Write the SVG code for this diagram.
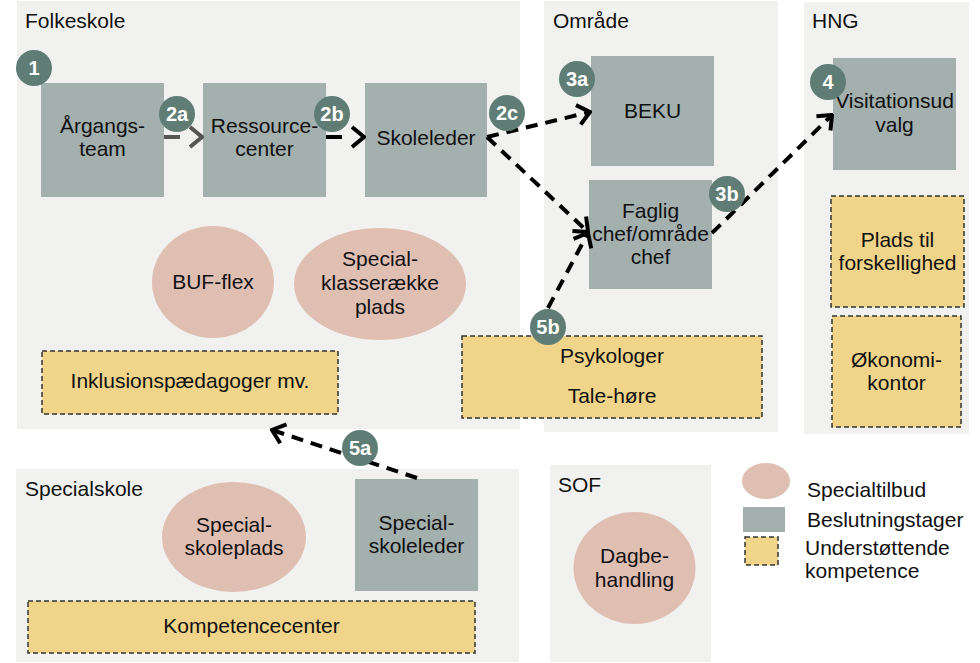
<svg xmlns="http://www.w3.org/2000/svg" width="980" height="663" viewBox="0 0 980 663">
<defs>
<style>
text{font-family:"Liberation Sans",Arial,sans-serif;font-size:21px;fill:#111;}
.c{text-anchor:middle;}
.panel{fill:#f1f1ef;}
.dec{fill:#a3b0ae;}
.sup{fill:#f0d48a;stroke:#333;stroke-width:1.5;stroke-dasharray:5 3;}
.spec{fill:#e0bfb3;}
.badge circle{fill:#5f7d75;}
.badge text{fill:#fff;font-weight:bold;font-size:20px;text-anchor:middle;}
.arr{fill:none;stroke:#000;stroke-width:4;stroke-dasharray:12 8;marker-end:url(#ah);}
.leg{font-size:21px;}
</style>
<marker id="ah" viewBox="0 0 16 24" refX="14" refY="12" markerWidth="16" markerHeight="24" markerUnits="userSpaceOnUse" orient="auto">
<path d="M2,2 L14,12 L2,22" fill="none" stroke="#000" stroke-width="4"/>
</marker>
<marker id="ahg" viewBox="0 0 16 24" refX="14" refY="12" markerWidth="16" markerHeight="24" markerUnits="userSpaceOnUse" orient="auto">
<path d="M2,2 L14,12 L2,22" fill="none" stroke="#555" stroke-width="4"/>
</marker>
</defs>
<rect width="980" height="663" fill="#fff"/>

<g id="panels">
<rect class="panel" x="17" y="1" width="503" height="428"/>
<text x="25" y="28">Folkeskole</text>
<rect class="panel" x="544" y="1" width="234" height="431"/>
<text x="553" y="28">Område</text>
<rect class="panel" x="804" y="2" width="165" height="432"/>
<text x="812" y="28">HNG</text>
<rect class="panel" x="16" y="469" width="503" height="193"/>
<text x="25" y="496">Specialskole</text>
<rect class="panel" x="550" y="465" width="161" height="197"/>
<text x="558" y="492">SOF</text>
</g>

<g id="argangsteam"><rect class="dec" x="41" y="83" width="123" height="114"/><text class="c" x="102.5" y="133">Årgangs-<tspan x="102.5" y="156">team</tspan></text></g>
<g id="ressourcecenter"><rect class="dec" x="203" y="83" width="123" height="114"/><text class="c" x="264.5" y="133">Ressource-<tspan x="264.5" y="156">center</tspan></text></g>
<g id="skoleleder"><rect class="dec" x="365" y="83" width="122" height="114"/><text class="c" x="426" y="145">Skoleleder</text></g>
<g id="bufflex"><ellipse class="spec" cx="213" cy="282" rx="61" ry="56"/><text class="c" x="213" y="289">BUF-flex</text></g>
<g id="specialklasse"><ellipse class="spec" cx="380" cy="284" rx="86" ry="56"/><text class="c" x="380" y="266">Special-<tspan x="380" y="290">klasserække</tspan><tspan x="380" y="314">plads</tspan></text></g>
<g id="inklusion"><rect class="sup" x="42" y="351" width="296" height="63"/><text class="c" x="190" y="388">Inklusionspædagoger mv.</text></g>

<g id="beku"><rect class="dec" x="591" y="56" width="123" height="110"/><text class="c" x="652.5" y="118">BEKU</text></g>
<g id="faglig"><rect class="dec" x="589" y="180" width="123" height="109"/><text class="c" x="650.5" y="218">Faglig<tspan x="650.5" y="241">chef/område</tspan><tspan x="650.5" y="264">chef</tspan></text></g>
<g id="psykologer"><rect class="sup" x="462" y="336" width="300" height="82"/><text class="c" x="612" y="363">Psykologer</text><text class="c" x="612" y="403">Tale-høre</text></g>

<g id="visitation"><rect class="dec" x="833" y="58" width="123" height="112"/><text class="c" x="894.5" y="108">Visitationsud<tspan x="894.5" y="132">valg</tspan></text></g>
<g id="plads"><rect class="sup" x="831" y="196" width="133" height="111"/><text class="c" x="897.5" y="247">Plads til<tspan x="897.5" y="270">forskellighed</tspan></text></g>
<g id="okonomi"><rect class="sup" x="832" y="316" width="129" height="111"/><text class="c" x="896.5" y="367">Økonomi-<tspan x="896.5" y="390">kontor</tspan></text></g>

<g id="specialskoleplads"><ellipse class="spec" cx="234" cy="537" rx="72" ry="55"/><text class="c" x="234" y="532">Special-<tspan x="234" y="555">skoleplads</tspan></text></g>
<g id="specialskoleleder"><rect class="dec" x="355" y="479" width="123" height="112"/><text class="c" x="416.5" y="530">Special-<tspan x="416.5" y="553">skoleleder</tspan></text></g>
<g id="kompetencecenter"><rect class="sup" x="28" y="601" width="447" height="52"/><text class="c" x="251.5" y="633">Kompetencecenter</text></g>

<g id="dagbehandling"><ellipse class="spec" cx="634.5" cy="568" rx="61" ry="56"/><text class="c" x="634.5" y="563">Dagbe-<tspan x="634.5" y="587">handling</tspan></text></g>

<g id="connectors">
<line x1="164" y1="137" x2="202" y2="137" stroke="#555" stroke-width="4" stroke-dasharray="16 30" marker-end="url(#ahg)"/>
<line x1="326" y1="137" x2="364" y2="137" stroke="#000" stroke-width="4" stroke-dasharray="16 30" marker-end="url(#ah)"/>
<line class="arr" x1="487" y1="137" x2="590" y2="112"/>
<line class="arr" x1="487" y1="137" x2="588" y2="232"/>
<line class="arr" x1="712" y1="233" x2="832" y2="115"/>
<line class="arr" x1="548" y1="308" x2="588" y2="233"/>
<line class="arr" x1="417" y1="478" x2="272" y2="430"/>
</g>

<g id="badges">
<g class="badge" id="b1"><circle cx="34" cy="68" r="18"/><text x="34" y="75">1</text></g>
<g class="badge" id="b2a"><circle cx="177" cy="114" r="18"/><text x="177" y="121">2a</text></g>
<g class="badge" id="b2b"><circle cx="332" cy="114" r="18"/><text x="332" y="121">2b</text></g>
<g class="badge" id="b2c"><circle cx="507" cy="113" r="18"/><text x="507" y="120">2c</text></g>
<g class="badge" id="b3a"><circle cx="577" cy="79" r="18"/><text x="577" y="86">3a</text></g>
<g class="badge" id="b3b"><circle cx="727" cy="194" r="18"/><text x="727" y="201">3b</text></g>
<g class="badge" id="b4"><circle cx="828" cy="82" r="18"/><text x="828" y="89">4</text></g>
<g class="badge" id="b5a"><circle cx="360" cy="448" r="18"/><text x="360" y="455">5a</text></g>
<g class="badge" id="b5b"><circle cx="548" cy="327" r="18"/><text x="548" y="334">5b</text></g>
</g>

<g id="legend">
<ellipse class="spec" cx="766" cy="481" rx="24" ry="18"/>
<text class="leg" x="807" y="497">Specialtilbud</text>
<rect class="dec" x="743" y="507" width="42" height="25"/>
<text class="leg" x="807" y="527">Beslutningstager</text>
<rect class="sup" x="745" y="537" width="33" height="28"/>
<text class="leg" x="805" y="555">Understøttende<tspan x="805" y="578">kompetence</tspan></text>
</g>
</svg>
